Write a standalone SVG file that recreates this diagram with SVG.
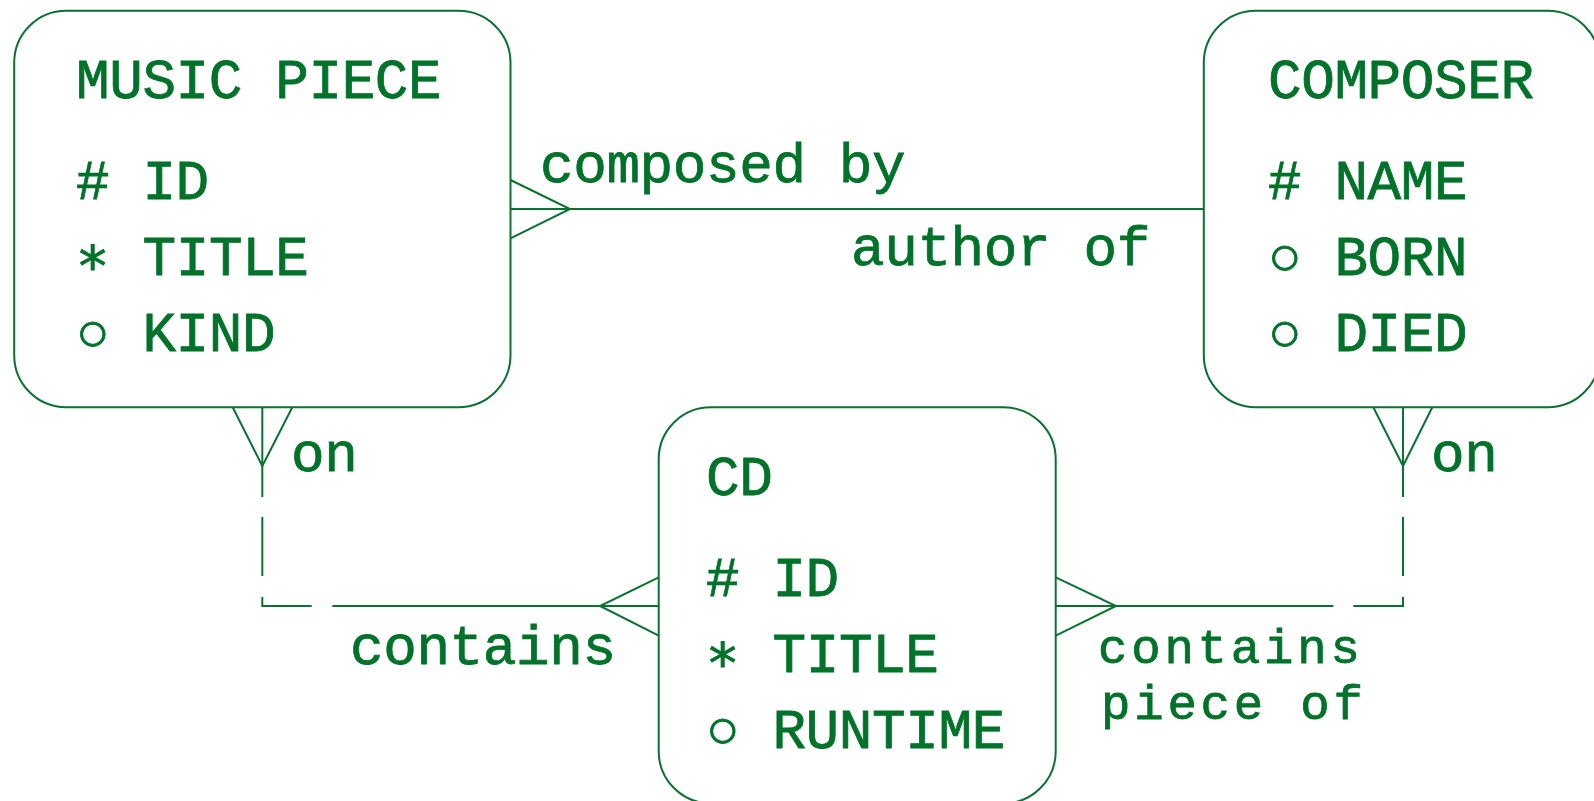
<svg xmlns="http://www.w3.org/2000/svg" width="1594" height="801" viewBox="0 0 1594 801">
<style>
.box{fill:#fff;stroke:#0a7230;stroke-width:2}
.ln{fill:none;stroke:#0a7230;stroke-width:2}
text{font-family:"Liberation Mono","DejaVu Sans Mono",monospace;font-size:56px;letter-spacing:-0.4px;fill:#00722a;stroke:#00722a;stroke-width:0.8px}
.sm{font-size:49px;letter-spacing:3.8px}
</style>
<rect width="1594" height="801" fill="#fff"/>
<g id="connectors">
  <line class="ln" x1="510.5" y1="209" x2="1204" y2="209"/>
  <polyline class="ln" points="510.5,180 570,209 510.5,238.3"/>
  <polyline class="ln" points="232.7,407.3 262.3,466 292.3,407.3"/>
  <line class="ln" x1="262.3" y1="407.3" x2="262.3" y2="497"/>
  <line class="ln" x1="262.3" y1="517" x2="262.3" y2="576"/>
  <polyline class="ln" points="262.3,597 262.3,606 311.7,606"/>
  <line class="ln" x1="332.3" y1="606" x2="658.7" y2="606"/>
  <polyline class="ln" points="658.7,577.3 600,606 658.7,635.7"/>
  <polyline class="ln" points="1373.3,407.3 1403,466 1432.3,407.3"/>
  <line class="ln" x1="1403" y1="407.3" x2="1403" y2="497"/>
  <line class="ln" x1="1403" y1="517" x2="1403" y2="576"/>
  <polyline class="ln" points="1403,597 1403,606 1353.3,606"/>
  <line class="ln" x1="1333.3" y1="606" x2="1055.7" y2="606"/>
  <polyline class="ln" points="1055.7,577.3 1116,606 1055.7,635.7"/>
  <text x="540" y="181.7">composed by</text>
  <text x="851" y="265">author of</text>
  <text x="291" y="470.7">on</text>
  <text x="350" y="664">contains</text>
  <text x="1431" y="470.7">on</text>
  <text class="sm" x="1098" y="663">contains</text>
  <text class="sm" x="1101" y="719">piece of</text>
</g>
<g id="music-piece">
  <rect class="box" x="14.2" y="10.8" width="496.3" height="396.5" rx="52"/>
  <text x="76" y="98.3">MUSIC PIECE</text>
  <text x="76" y="199.3"># ID</text>
  <text x="76" y="275">∗ TITLE</text>
  <text x="76" y="351">○ KIND</text>
</g>
<g id="composer">
  <rect class="box" x="1203.8" y="10.8" width="396" height="396.5" rx="52"/>
  <text x="1268" y="98.3">COMPOSER</text>
  <text x="1268" y="199.3"># NAME</text>
  <text x="1268" y="275">○ BORN</text>
  <text x="1268" y="351">○ DIED</text>
</g>
<g id="cd">
  <rect class="box" x="658.7" y="407.3" width="397" height="396" rx="52"/>
  <text x="706" y="494.5">CD</text>
  <text x="706" y="595.8"># ID</text>
  <text x="706" y="671.5">∗ TITLE</text>
  <text x="706" y="747.5">○ RUNTIME</text>
</g>
</svg>
